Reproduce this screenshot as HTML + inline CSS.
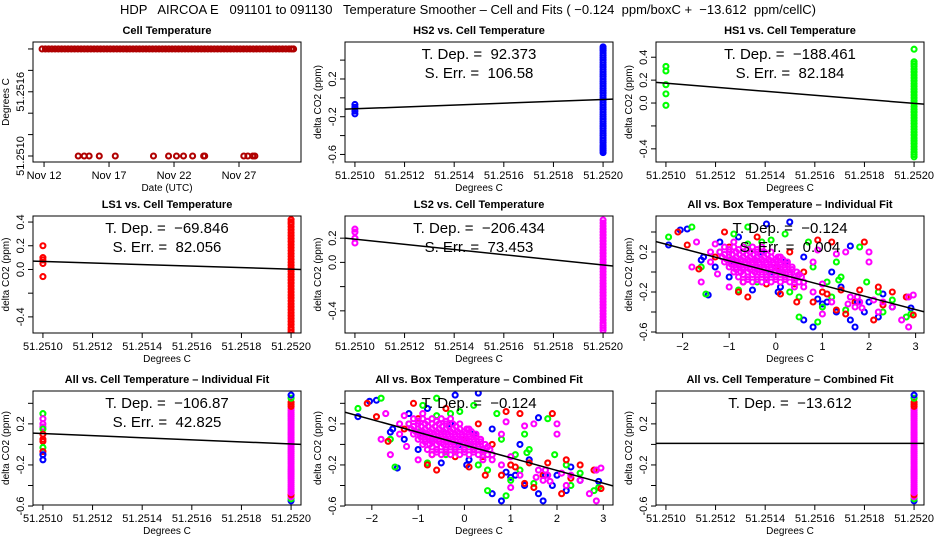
<!DOCTYPE html>
<html><head><meta charset="utf-8"><style>
html,body{margin:0;padding:0;background:#fff;}
svg{display:block;font-family:"Liberation Sans",sans-serif;}
</style></head><body>
<svg id="chart" width="936" height="540" viewBox="0 0 936 540" xmlns="http://www.w3.org/2000/svg">
<rect width="936" height="540" fill="#fff"/>
<text x="468" y="14" text-anchor="middle" font-size="13" xml:space="preserve" style="white-space:pre">HDP   AIRCOA E   091101 to 091130   Temperature Smoother – Cell and Fits ( −0.124  ppm/boxC +  −13.612  ppm/cellC)</text>
</svg>
<script>
// ---------- data ----------
const cellTopDays = [11.85,12.1,12.35,12.6,12.85,13.1,13.35,13.6,13.85,14.1,14.35,14.6,14.85,15.1,15.35,15.6,15.85,16.1,16.35,16.6,16.85,17.1,17.35,17.6,17.85,18.1,18.35,18.6,18.85,19.1,19.35,19.6,19.85,20.1,20.35,20.6,20.85,21.1,21.35,21.6,21.85,22.1,22.35,22.6,22.85,23.1,23.35,23.6,23.85,24.1,24.35,24.6,24.85,25.1,25.35,25.6,25.85,26.1,26.35,26.6,26.85,27.1,27.35,27.6,27.85,28.1,28.35,28.6,28.85,29.1,29.35,29.6,29.85,30.1,30.35,30.6,30.85,31.05,31.2];
const cellLowDays = [14.63,15.09,15.47,16.25,17.48,20.42,21.58,22.19,22.73,23.43,24.28,24.36,27.37,27.68,28.06,28.22];
const dateTicks = [12,17,22,27];
const dateTickLabels = ["Nov 12","Nov 17","Nov 22","Nov 27"];

const hs2Low = [-0.07,-0.1,-0.14,-0.17];
const hs2Col = [-0.58,-0.56,-0.54,-0.52,-0.5,-0.475,-0.45,-0.425,-0.4,-0.375,-0.35,-0.325,-0.3,-0.275,-0.25,-0.225,-0.2,-0.175,-0.15,-0.125,-0.1,-0.075,-0.05,-0.025,0,0.025,0.05,0.075,0.1,0.125,0.15,0.175,0.2,0.225,0.25,0.275,0.3,0.325,0.35,0.375,0.4,0.425,0.45,0.475,0.5,0.52,0.54];
const hs1Low = [0.32,0.28,0.16,0.08,-0.02];
const hs1Col = [-0.47,-0.45,-0.43,-0.405,-0.38,-0.355,-0.33,-0.305,-0.28,-0.255,-0.23,-0.205,-0.18,-0.155,-0.13,-0.105,-0.08,-0.055,-0.03,-0.005,0.02,0.045,0.07,0.095,0.12,0.145,0.17,0.195,0.22,0.245,0.27,0.295,0.32,0.34,0.36,0.47];
const ls1Low = [0.2,0.1,0.08,0.05,-0.06];
const ls1Col = [-0.53,-0.51,-0.49,-0.465,-0.44,-0.415,-0.39,-0.365,-0.34,-0.315,-0.29,-0.265,-0.24,-0.215,-0.19,-0.165,-0.14,-0.115,-0.09,-0.065,-0.04,-0.015,0.01,0.035,0.06,0.085,0.11,0.135,0.16,0.185,0.21,0.235,0.26,0.285,0.31,0.335,0.36,0.385,0.4,0.42];
const ls2Low = [0.275,0.25,0.2,0.16];
const ls2Col = [-0.56,-0.54,-0.52,-0.5,-0.475,-0.45,-0.425,-0.4,-0.375,-0.35,-0.325,-0.3,-0.275,-0.25,-0.225,-0.2,-0.175,-0.15,-0.125,-0.1,-0.075,-0.05,-0.025,0,0.025,0.05,0.075,0.1,0.125,0.15,0.175,0.2,0.225,0.25,0.275,0.3,0.325,0.35];
const allLowY = [0.3,0.25,0.2,0.17,0.15,0.1,0.05,0.03,-0.03,-0.07,-0.1,-0.15];
const allLowC = ["#00ff00","#ff00ff","#ff00ff","#ff00ff","#00ff00","#ff0000","#ff0000","#ff0000","#00ff00","#ff0000","#0000ff","#0000ff"];
const allColY = [-0.55,-0.53,-0.51,-0.49,-0.47,-0.45,-0.43,-0.41,-0.39,-0.37,-0.35,-0.33,-0.31,-0.29,-0.27,-0.25,-0.23,-0.21,-0.19,-0.17,-0.15,-0.13,-0.11,-0.09,-0.07,-0.05,-0.03,-0.01,0.01,0.03,0.05,0.07,0.09,0.11,0.13,0.15,0.17,0.19,0.21,0.23,0.25,0.27,0.29,0.31,0.33,0.35,0.37,0.39,0.41,0.45,0.48];
const allColC = ["#0000ff","#00ff00","#ff00ff","#ff0000","#ff00ff","#ff00ff","#ff00ff","#ff00ff","#ff00ff","#ff00ff","#ff00ff","#ff00ff","#ff00ff","#ff00ff","#ff00ff","#ff00ff","#ff00ff","#ff00ff","#ff00ff","#ff00ff","#ff00ff","#ff00ff","#ff00ff","#ff00ff","#ff00ff","#ff00ff","#ff00ff","#ff00ff","#ff00ff","#ff00ff","#ff00ff","#ff00ff","#ff00ff","#ff00ff","#ff00ff","#ff00ff","#ff00ff","#ff00ff","#ff00ff","#ff00ff","#ff00ff","#ff00ff","#ff00ff","#ff00ff","#ff00ff","#ff00ff","#ff0000","#ff0000","#ff0000","#00ff00","#0000ff"];

const bluePts = [[-2.3,0.27],[-2.05,0.42],[-1.9,0.43],[-1.45,-0.23],[-1.6,0.12],[-1.2,0.3],[-1.0,-0.05],[-0.8,0.35],[-0.5,-0.18],[-0.2,0.48],[0.05,-0.2],[0.3,0.5],[0.6,0.15],[0.9,-0.27],[1.2,0.0],[1.6,0.26],[1.6,-0.48],[1.7,-0.55],[1.9,-0.4],[2.0,-0.3],[2.2,-0.45],[2.5,-0.35],[2.9,-0.36],[0.6,-0.48],[0.8,-0.55],[1.0,-0.32],[1.4,-0.15],[0.2,0.1],[-0.3,0.2],[-0.7,0.05],[2.3,-0.22],[-1.55,0.15],[1.3,-0.4],[0.4,-0.05],[-0.1,0.0],[1.75,-0.3],[-0.9,0.1],[-0.4,0.15],[0.1,-0.15],[1.1,-0.3],[-1.3,0.05]];
const greenPts = [[-2.3,0.35],[-1.8,0.45],[-1.5,-0.22],[-1.2,0.2],[-0.9,0.38],[-0.6,0.45],[-0.4,-0.1],[-0.1,0.32],[0.2,0.38],[0.5,-0.25],[0.7,0.3],[0.5,-0.45],[0.9,-0.5],[1.1,-0.1],[1.3,0.1],[1.4,-0.05],[1.8,0.25],[2.2,-0.2],[2.3,-0.4],[2.8,-0.45],[2.9,-0.42],[1.5,-0.38],[1.0,-0.35],[0.3,-0.2],[-0.8,-0.18],[-1.6,0.05],[1.95,-0.1],[0.8,0.05],[-0.3,0.3],[0.1,0.0],[1.2,-0.25],[2.5,-0.28],[-1.0,0.12],[-0.6,0.28],[-0.2,-0.05],[1.35,-0.08]];
const redPts = [[-2.1,0.4],[-1.9,0.27],[-1.65,0.03],[-1.3,0.15],[-1.1,0.4],[-0.8,-0.2],[-0.6,-0.25],[-0.4,0.35],[-0.2,-0.12],[0.1,-0.22],[0.3,0.2],[0.45,-0.3],[0.6,0.0],[0.9,0.32],[0.8,-0.3],[1.2,0.3],[1.3,-0.38],[1.5,-0.42],[1.8,-0.18],[1.9,0.3],[2.1,-0.48],[2.2,-0.15],[2.5,-0.2],[2.8,-0.25],[2.95,-0.43],[1.7,-0.3],[1.0,-0.2],[0.2,-0.05],[-0.5,0.1],[2.3,-0.33],[1.4,-0.18],[0.0,0.05],[-1.0,0.25],[-0.7,-0.1],[0.4,-0.12],[1.1,-0.22]];
const magentaPts = [[-1.7,0.3],[-1.8,0.05],[-1.6,-0.1],[-1.4,0.2],[-1.0,-0.15],[-0.9,0.3],[0.1,0.15],[0.6,-0.1],[0.8,0.1],[0.9,0.22],[1.0,-0.42],[1.3,0.18],[1.5,0.2],[1.6,-0.25],[1.8,-0.3],[2.0,0.2],[2.0,0.1],[2.3,-0.3],[2.5,-0.35],[2.7,-0.48],[2.85,-0.25],[2.95,-0.23],[2.85,-0.55],[1.2,-0.3],[0.4,-0.15],[1.7,-0.35],[2.2,-0.4],
[-1.1,0.25],[-0.9,0.25],[-0.7,0.25],[-0.5,0.25],[-0.3,0.25],
[-1.2,0.2],[-1.0,0.2],[-0.85,0.2],[-0.7,0.2],[-0.55,0.2],[-0.4,0.2],[-0.25,0.2],[-0.1,0.2],
[-1.15,0.15],[-1.0,0.15],[-0.85,0.15],[-0.7,0.15],[-0.55,0.15],[-0.4,0.15],[-0.25,0.15],[-0.1,0.15],[0.05,0.15],
[-1.1,0.1],[-0.95,0.1],[-0.8,0.1],[-0.65,0.1],[-0.5,0.1],[-0.35,0.1],[-0.2,0.1],[-0.05,0.1],[0.1,0.1],[0.25,0.1],
[-1.0,0.05],[-0.85,0.05],[-0.7,0.05],[-0.55,0.05],[-0.4,0.05],[-0.25,0.05],[-0.1,0.05],[0.05,0.05],[0.2,0.05],[0.35,0.05],
[-0.9,0.0],[-0.75,0.0],[-0.6,0.0],[-0.45,0.0],[-0.3,0.0],[-0.15,0.0],[0.0,0.0],[0.15,0.0],[0.3,0.0],[0.45,0.0],
[-0.8,-0.05],[-0.6,-0.05],[-0.4,-0.05],[-0.2,-0.05],[0.0,-0.05],[0.2,-0.05],[0.4,-0.05],[0.55,-0.05],
[-0.7,-0.1],[-0.5,-0.1],[-0.3,-0.1],[-0.1,-0.1],[0.1,-0.1],[0.3,-0.1],[0.5,-0.1],
[-1.0,0.225],[-0.8,0.225],[-0.6,0.225],[-0.4,0.225],[-1.1,0.175],[-0.93,0.175],[-0.78,0.175],[-0.63,0.175],[-0.48,0.175],[-0.33,0.175],[-0.18,0.175],
[-1.05,0.125],[-0.9,0.125],[-0.75,0.125],[-0.6,0.125],[-0.45,0.125],[-0.3,0.125],[-0.15,0.125],[0.0,0.125],[0.15,0.125],
[-0.95,0.075],[-0.8,0.075],[-0.65,0.075],[-0.5,0.075],[-0.35,0.075],[-0.2,0.075],[-0.05,0.075],[0.1,0.075],[0.25,0.075],
[-0.85,0.025],[-0.7,0.025],[-0.55,0.025],[-0.4,0.025],[-0.25,0.025],[-0.1,0.025],[0.05,0.025],[0.2,0.025],[0.35,0.025],
[-0.7,-0.025],[-0.5,-0.025],[-0.3,-0.025],[-0.1,-0.025],[0.1,-0.025],[0.3,-0.025],[0.5,-0.025],
[-0.6,-0.075],[-0.4,-0.075],[-0.2,-0.075],[0.0,-0.075],[0.2,-0.075],[0.4,-0.075],
[-1.3,0.28],[-1.4,0.1],[-1.25,-0.02],[0.6,-0.15],[0.8,-0.2],[1.0,-0.12],[1.55,-0.32],[1.75,-0.25],[1.85,-0.36],[2.1,-0.28]];

const fitSlopes = [0.0, 0.107, -0.19, -0.07, -0.206, -0.122, -0.107, -0.124, 0.0];
const fitLeftY = [0, -0.12, 0.18, 0.07, 0.2, 0, 0.11, 0, 0.01];
const fitRightY = [0, -0.013, -0.01, 0.0, -0.03, 0, 0.0, 0, 0.01];
const boxIntercepts = [0, 0, 0, 0, 0, -0.01, 0, -0.006, 0];

// ---------- drawing ----------
const svg = document.getElementById('chart');
const NS = 'http://www.w3.org/2000/svg';
function el(tag, attrs, parent) {
  const e = document.createElementNS(NS, tag);
  for (const k in attrs) e.setAttribute(k, attrs[k]);
  (parent || svg).appendChild(e);
  return e;
}
const COLS = [[33,301],[345,613],[656,924]];
const ROWS = [[42,162],[216,333],[391,505]];

function makePanel(name, c, r, xlim, ylim, title) {
  const g = el('g', {});
  
  
  const L = COLS[c][0], R = COLS[c][1], T = ROWS[r][0], B = ROWS[r][1];
  const sx = v => L + (v - xlim[0]) / (xlim[1] - xlim[0]) * (R - L);
  const sy = v => B - (v - ylim[0]) / (ylim[1] - ylim[0]) * (B - T);
  const t = el('text', {x: (L+R)/2, y: T-8, 'text-anchor':'middle', 'font-size':11, 'font-weight':'bold'}, g);
  t.textContent = title;
  
  
  const clip = 'clip-' + name;
  const cp = el('clipPath', {id: clip}, g);
  el('rect', {x:L, y:T, width:R-L, height:B-T}, cp);
  const plot = el('g', {'clip-path': 'url(#'+clip+')'}, g);
  return {g, plot, L, R, T, B, sx, sy};
}
function box(p) {
  const b = el('rect', {x:p.L, y:p.T, width:p.R-p.L, height:p.B-p.T, fill:'none', stroke:'#000', 'stroke-width':1}, p.g);
  
  
}
function yAxis(p, ticks, labels, title) {
  const ax = el('g', {}, p.g);
  
  
  const x0 = p.L;
  el('line', {x1:x0, x2:x0, y1:p.sy(ticks[0]), y2:p.sy(ticks[ticks.length-1]), stroke:'#000'}, ax);
  ticks.forEach((v,i) => {
    const y = p.sy(v);
    el('line', {x1:x0-5, x2:x0, y1:y, y2:y, stroke:'#000'}, ax);
    if (labels[i]) {
      const tx = el('text', {x:0, y:0, 'text-anchor':'middle', 'font-size':11, transform:`translate(${x0-9},${y}) rotate(-90)`}, ax);
      tx.textContent = labels[i];
    }
  });
  const tt = el('text', {x:0, y:0, 'text-anchor':'middle', 'font-size':10, transform:`translate(${x0-24},${(p.T+p.B)/2}) rotate(-90)`}, ax);
  tt.textContent = title;
  
  
}
function xAxis(p, ticks, labels, title) {
  const ax = el('g', {}, p.g);
  
  
  const y0 = p.B;
  el('line', {x1:p.sx(ticks[0]), x2:p.sx(ticks[ticks.length-1]), y1:y0, y2:y0, stroke:'#000'}, ax);
  ticks.forEach((v,i) => {
    const x = p.sx(v);
    el('line', {x1:x, x2:x, y1:y0, y2:y0+5, stroke:'#000'}, ax);
    const tx = el('text', {x:x, y:y0+17, 'text-anchor':'middle', 'font-size':11}, ax);
    tx.textContent = labels[i];
  });
  const tt = el('text', {x:(p.L+p.R)/2, y:y0+29, 'text-anchor':'middle', 'font-size':10}, ax);
  tt.textContent = title;
  
  
}
function pt(p, x, y, color) {
  const c = el('circle', {cx:p.sx(x), cy:p.sy(y), r:2.5, fill:'none', stroke:color, 'stroke-width':2.1}, p.plot);
  
  
}
function fitLine(p, x1, y1, x2, y2) {
  const l = el('line', {x1:p.sx(x1), y1:p.sy(y1), x2:p.sx(x2), y2:p.sy(y2), stroke:'#000', 'stroke-width':1.5}, p.plot);
  
  
}
function stats(p, lines) {
  lines.forEach((s,i) => {
    const t = el('text', {x:(p.L+p.R)/2, y:p.T+17+i*19, 'text-anchor':'middle', 'font-size':15, 'xml:space':'preserve', style:'white-space:pre'}, p.g);
    t.textContent = s;
    
    
  });
}

const CX = [51.25096, 51.25204];
const cellTicks = [51.2510,51.2512,51.2514,51.2516,51.2518,51.2520];
const cellLabels = ["51.2510","51.2512","51.2514","51.2516","51.2518","51.2520"];

// Panel 1
{
  const p = makePanel('cell-temperature-panel', 0, 0, [11.15, 31.77], [51.250944, 51.252065], 'Cell Temperature');
  cellTopDays.forEach(d => pt(p, d, 51.2520, '#b00000'));
  cellLowDays.forEach(d => pt(p, d, 51.2510, '#b00000'));
  box(p);
  yAxis(p, [51.2510,51.2512,51.2514,51.2516,51.2518,51.2520], ["51.2510","","","51.2516","",""], 'Degrees C');
  xAxis(p, dateTicks, dateTickLabels, 'Date (UTC)');
}
function cellPanel(name, c, r, ylim, title, low, col, color, k, yt, yl, st) {
  const p = makePanel(name, c, r, CX, ylim, title);
  low.forEach((v,i) => pt(p, 51.2510, v, Array.isArray(color) ? color[0][i] : color));
  col.forEach((v,i) => pt(p, 51.2520, v, Array.isArray(color) ? color[1][i] : color));
  fitLine(p, CX[0], fitLeftY[k], CX[1], fitRightY[k]);
  box(p);
  yAxis(p, yt, yl, 'delta CO2 (ppm)');
  xAxis(p, cellTicks, cellLabels, 'Degrees C');
  stats(p, st);
}
cellPanel('hs2-panel', 1, 0, [-0.68, 0.592], 'HS2 vs. Cell Temperature', hs2Low, hs2Col, '#0000ff', 1,
  [-0.6,-0.4,-0.2,0,0.2,0.4], ["-0.6","","-0.2","","0.2",""], ['T. Dep. =  92.373','S. Err. =  106.58']);
cellPanel('hs1-panel', 2, 0, [-0.515, 0.533], 'HS1 vs. Cell Temperature', hs1Low, hs1Col, '#00ff00', 2,
  [-0.4,-0.2,0,0.2,0.4], ["-0.4","","0.0","0.2","0.4"], ['T. Dep. =  −188.461','S. Err. =  82.184']);
cellPanel('ls1-panel', 0, 1, [-0.536, 0.451], 'LS1 vs. Cell Temperature', ls1Low, ls1Col, '#ff0000', 3,
  [-0.4,-0.2,0,0.2,0.4], ["-0.4","","0.0","0.2","0.4"], ['T. Dep. =  −69.846','S. Err. =  82.056']);
cellPanel('ls2-panel', 1, 1, [-0.583, 0.383], 'LS2 vs. Cell Temperature', ls2Low, ls2Col, '#ff00ff', 4,
  [-0.4,-0.2,0,0.2], ["-0.4","","0.0","0.2"], ['T. Dep. =  −206.434','S. Err. =  73.453']);
cellPanel('all-cell-individual-panel', 0, 2, [-0.59, 0.52], 'All vs. Cell Temperature – Individual Fit', allLowY, allColY, [allLowC, allColC], 6,
  [-0.6,-0.4,-0.2,0,0.2,0.4], ["-0.6","","-0.2","","0.2",""], ['T. Dep. =  −106.87','S. Err. =  42.825']);
cellPanel('all-cell-combined-panel', 2, 2, [-0.59, 0.52], 'All vs. Cell Temperature – Combined Fit', [], allColY, [[], allColC], 8,
  [-0.6,-0.4,-0.2,0,0.2,0.4], ["-0.6","","-0.2","","0.2",""], ['T. Dep. =  −13.612']);

function boxPanel(name, c, r, xlim, ylim, title, k, st) {
  const p = makePanel(name, c, r, xlim, ylim, title);
  bluePts.forEach(d => pt(p, d[0], d[1], '#0000ff'));
  greenPts.forEach(d => pt(p, d[0], d[1], '#00ff00'));
  redPts.forEach(d => pt(p, d[0], d[1], '#ff0000'));
  magentaPts.forEach(d => pt(p, d[0], d[1], '#ff00ff'));
  fitLine(p, xlim[0], boxIntercepts[k] + fitSlopes[k]*xlim[0], xlim[1], boxIntercepts[k] + fitSlopes[k]*xlim[1]);
  box(p);
  yAxis(p, [-0.6,-0.4,-0.2,0,0.2,0.4], ["-0.6","","-0.2","","0.2",""], 'delta CO2 (ppm)');
  xAxis(p, [-2,-1,0,1,2,3], ["−2","−1","0","1","2","3"], 'Degrees C');
  stats(p, st);
}
boxPanel('all-box-individual-panel', 2, 1, [-2.57, 3.18], [-0.61, 0.56], 'All vs. Box Temperature – Individual Fit', 5, ['T. Dep. =  −0.124','S. Err. =  0.004']);
boxPanel('all-box-combined-panel', 1, 2, [-2.58, 3.21], [-0.59, 0.52], 'All vs. Box Temperature – Combined Fit', 7, ['T. Dep. =  −0.124']);
</script>
</body></html>
